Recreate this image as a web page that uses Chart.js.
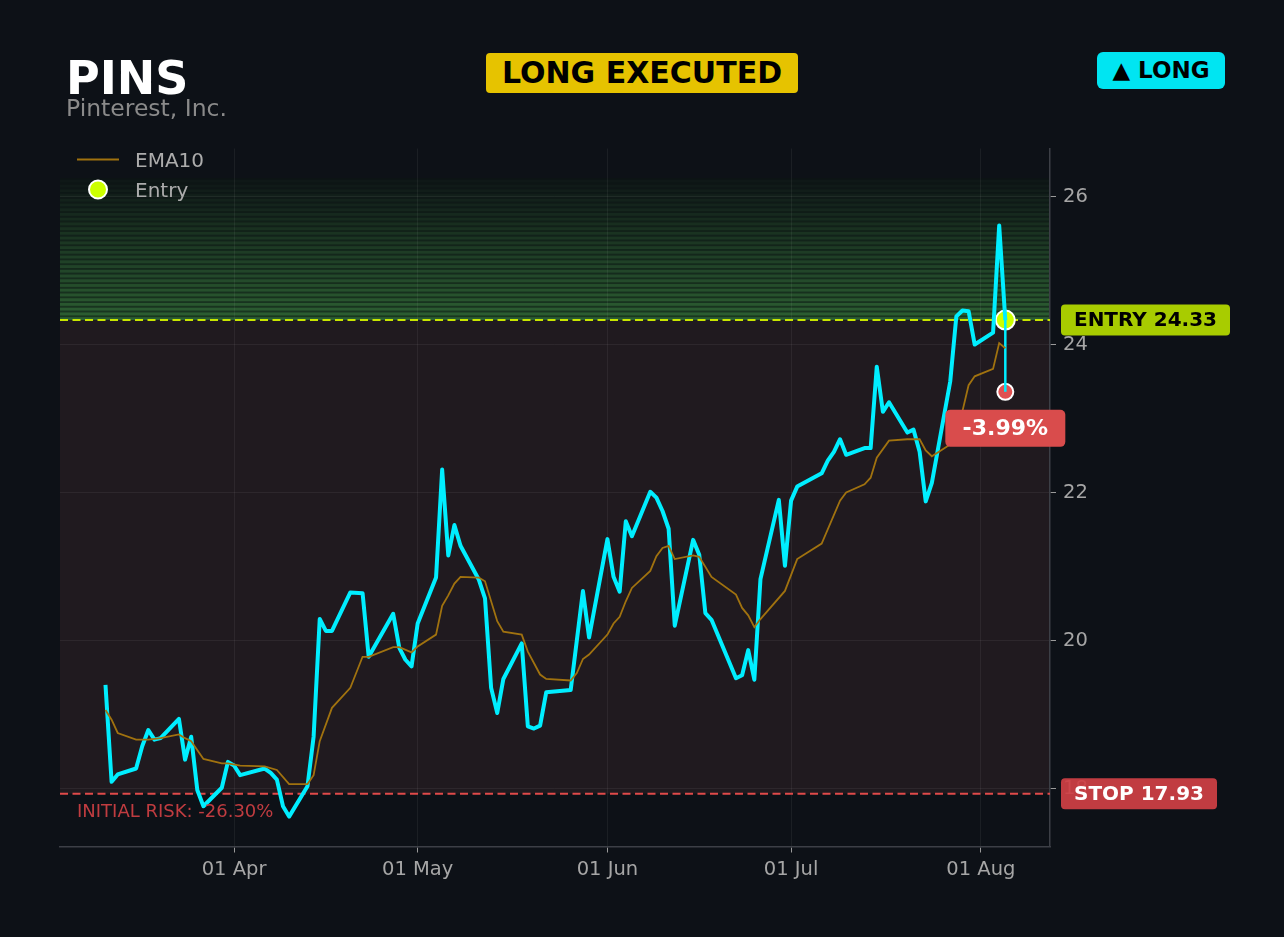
<!DOCTYPE html>
<html>
<head>
<meta charset="utf-8">
<script src="https://cdn.jsdelivr.net/npm/chart.js@4.4.1/dist/chart.umd.min.js"></script>
<style>
  body { margin: 0; background: #0d1117; font-family: "DejaVu Sans", sans-serif; }
  #wrap { position: relative; width: 1284px; height: 937px; overflow: hidden; }
  #plot { position: absolute; left: 0; top: 0; }
  .abs { position: absolute; line-height: 1; white-space: nowrap; }
  .badge { display: flex; align-items: center; justify-content: center; font-weight: bold; color: #000; }
</style>
</head>
<body>
<div id="wrap">
  <canvas id="plot" width="1284" height="937"></canvas>
  <div class="abs" style="left:66px; top:55px; font-size:46px; font-weight:bold; color:#fff;">PINS</div>
  <div class="abs" style="left:66px; top:97px; font-size:23.5px; color:#8a8a8a;">Pinterest, Inc.</div>
  <div class="abs badge" style="left:486px; top:53px; width:312px; height:40px; background:#e6c300; border-radius:4px; font-size:30px;">LONG EXECUTED</div>
  <div class="abs badge" style="left:1097px; top:52px; width:128px; height:37px; background:#00e5f2; border-radius:6px; font-size:23px;">▲ LONG</div>
</div>
<script>
// day numbers counted from 1 Mar (01 Apr = 31)
var priceDays = [10, 11, 12, 15, 16, 17, 18, 19, 22, 23, 24, 25, 26, 29, 30, 31, 32, 36, 37, 38, 39, 40,
  43, 44, 45, 46, 47, 50, 52, 53, 57, 58, 59, 60, 61, 64, 65, 66, 67, 68, 71, 72, 73, 74, 75, 78, 79, 80,
  81, 82, 86, 88, 89, 92, 93, 94, 95, 96, 99, 100, 101, 102, 103, 106, 107, 108, 109, 113, 114, 115, 116,
  117, 120, 121, 122, 123, 127, 128, 129, 130, 131, 134, 135, 136, 137, 138, 141, 142, 143, 144, 145, 148,
  149, 150, 151, 152, 155, 156, 157];
var priceValues = [19.40, 18.09, 18.19, 18.27, 18.57, 18.79, 18.66, 18.68, 18.94, 18.39, 18.70, 17.98, 17.76,
  18.01, 18.36, 18.31, 18.18, 18.27, 18.21, 18.12, 17.76, 17.62, 18.03, 18.70, 20.29, 20.13, 20.13, 20.65,
  20.64, 19.78, 20.36, 19.90, 19.74, 19.65, 20.23, 20.85, 22.31, 21.15, 21.56, 21.28, 20.82, 20.57, 19.36,
  19.02, 19.48, 19.96, 18.84, 18.81, 18.85, 19.30, 19.33, 20.67, 20.04, 21.37, 20.86, 20.66, 21.61, 21.41,
  22.01, 21.93, 21.75, 21.51, 20.20, 21.36, 21.16, 20.37, 20.28, 19.49, 19.53, 19.87, 19.47, 20.83, 21.90,
  21.01, 21.89, 22.08, 22.26, 22.43, 22.55, 22.72, 22.51, 22.60, 22.60, 23.70, 23.09, 23.22, 22.81, 22.85,
  22.55, 21.88, 22.13, 23.50, 24.38, 24.46, 24.45, 24.00, 24.16, 25.61, 24.33];

var emaDays = [10, 11, 12, 15, 17, 19, 22, 23, 24, 26, 29, 30, 32, 36, 38, 40, 43, 44, 45, 47, 50, 52, 53,
  57, 58, 60, 61, 64, 65, 66, 67, 68, 71, 72, 74, 75, 78, 79, 81, 82, 86, 87, 88, 89, 92, 93, 94, 95, 96,
  99, 100, 101, 102, 103, 106, 107, 109, 113, 114, 115, 116, 117, 121, 123, 127, 130, 131, 134, 135, 136,
  138, 141, 143, 144, 145, 148, 150, 151, 152, 155, 156, 157];
var emaValues = [19.06, 18.93, 18.75, 18.66, 18.66, 18.68, 18.73, 18.68, 18.64, 18.40, 18.34, 18.34, 18.31,
  18.30, 18.25, 18.06, 18.06, 18.18, 18.64, 19.09, 19.36, 19.78, 19.78, 19.91, 19.91, 19.84, 19.92, 20.08,
  20.47, 20.61, 20.77, 20.86, 20.85, 20.80, 20.26, 20.12, 20.08, 19.85, 19.54, 19.48, 19.46, 19.56, 19.75,
  19.81, 20.08, 20.23, 20.32, 20.53, 20.71, 20.94, 21.14, 21.25, 21.28, 21.10, 21.15, 21.13, 20.86, 20.62,
  20.44, 20.34, 20.18, 20.29, 20.67, 21.10, 21.31, 21.89, 22.00, 22.11, 22.20, 22.47, 22.70, 22.72, 22.72,
  22.57, 22.49, 22.65, 23.10, 23.45, 23.57, 23.67, 24.02, 23.95];

var entryDay = 157;
var entryPrice = 24.33;
var stopPrice = 17.93;
var currentPrice = 23.36;
var bandTop = 26.25;

var xTickDays = [31, 61, 92, 122, 153];
var xTickLabels = ['01 Apr', '01 May', '01 Jun', '01 Jul', '01 Aug'];
var yTickValues = [18, 20, 22, 24, 26];

function toPoints(xs, ys) {
  return xs.map(function (d, i) { return { x: d, y: ys[i] }; });
}

function mix(a, b, t) {
  return 'rgb(' + a.map(function (v, i) { return Math.round(v + (b[i] - v) * t); }).join(',') + ')';
}

var zonesPlugin = {
  id: 'zones',
  beforeDraw: function (chart) {
    var ctx = chart.ctx, area = chart.chartArea, y = chart.scales.y;
    var yE = y.getPixelForValue(entryPrice);
    var yS = y.getPixelForValue(stopPrice);
    ctx.save();
    ctx.fillStyle = '#201a1f';
    ctx.fillRect(area.left, yE, area.right - area.left, yS - yE);
    // striped green band above entry
    var n = 30, step = (bandTop - entryPrice) / n;
    for (var i = 0; i < n; i++) {
      var t = i / (n - 1);
      var p0 = y.getPixelForValue(entryPrice + i * step);
      var p1 = y.getPixelForValue(entryPrice + (i + 1) * step);
      ctx.fillStyle = mix([44, 94, 50], [15, 24, 23], t);
      ctx.fillRect(area.left, p1, area.right - area.left, p0 - p1);
      ctx.fillStyle = mix([25, 54, 32], [13, 20, 21], t);
      ctx.fillRect(area.left, p1, area.right - area.left, Math.min(1.8, p0 - p1));
    }
    ctx.restore();
  },
  beforeDatasetsDraw: function (chart) {
    var ctx = chart.ctx, area = chart.chartArea, y = chart.scales.y;
    ctx.save();
    ctx.lineWidth = 2;
    ctx.setLineDash([8, 4.5]);
    ctx.strokeStyle = '#c8e600';
    var yE = y.getPixelForValue(entryPrice);
    ctx.beginPath(); ctx.moveTo(area.left, yE); ctx.lineTo(area.right, yE); ctx.stroke();
    ctx.strokeStyle = '#e04a4a';
    var yS = y.getPixelForValue(stopPrice);
    ctx.beginPath(); ctx.moveTo(area.left, yS); ctx.lineTo(area.right, yS); ctx.stroke();
    ctx.restore();
  },
  afterDraw: function (chart) {
    var ctx = chart.ctx, area = chart.chartArea, x = chart.scales.x, y = chart.scales.y;
    var yE = y.getPixelForValue(entryPrice);
    var yS = y.getPixelForValue(stopPrice);
    var yC = y.getPixelForValue(currentPrice);
    var xC = x.getPixelForValue(entryDay);
    ctx.save();
    ctx.textAlign = 'center';
    ctx.textBaseline = 'middle';

    ctx.fillStyle = '#a8cc00';
    ctx.beginPath(); ctx.roundRect(1061, yE - 15.5, 169, 31, 4); ctx.fill();
    ctx.fillStyle = '#000';
    ctx.font = 'bold 20px "DejaVu Sans"';
    ctx.fillText('ENTRY 24.33', 1145.5, yE + 1);

    ctx.fillStyle = 'rgba(208,64,69,0.93)';
    ctx.beginPath(); ctx.roundRect(1061, yS - 15.5, 156, 31, 4); ctx.fill();
    ctx.fillStyle = '#fff';
    ctx.fillText('STOP 17.93', 1139, yS + 1);

    ctx.fillStyle = '#d94c4c';
    ctx.beginPath(); ctx.roundRect(xC - 60, yC + 18, 120, 37, 5); ctx.fill();
    ctx.fillStyle = '#fff';
    ctx.font = 'bold 22px "DejaVu Sans"';
    ctx.fillText('-3.99%', xC, yC + 37);

    ctx.textAlign = 'left';
    ctx.textBaseline = 'alphabetic';
    ctx.fillStyle = '#c03c40';
    ctx.font = '18px "DejaVu Sans"';
    ctx.fillText('INITIAL RISK: -26.30%', 77, yS + 23);

    // legend
    ctx.strokeStyle = '#a0720f';
    ctx.lineWidth = 2;
    ctx.beginPath(); ctx.moveTo(area.left + 17, area.top + 11); ctx.lineTo(area.left + 59, area.top + 11); ctx.stroke();
    ctx.fillStyle = '#ccff00';
    ctx.strokeStyle = '#fff';
    ctx.beginPath(); ctx.arc(area.left + 38, area.top + 41, 9, 0, Math.PI * 2); ctx.fill(); ctx.stroke();
    ctx.fillStyle = '#acacac';
    ctx.font = '20px "DejaVu Sans"';
    ctx.fillText('EMA10', area.left + 75, area.top + 18);
    ctx.fillText('Entry', area.left + 75, area.top + 48);
    ctx.restore();
  }
};

new Chart(document.getElementById('plot').getContext('2d'), {
  type: 'line',
  data: {
    datasets: [
      {
        label: 'EMA10',
        data: toPoints(emaDays, emaValues),
        borderColor: '#a0720f',
        borderWidth: 1.8,
        pointRadius: 0,
        tension: 0
      },
      {
        label: 'Price',
        data: toPoints(priceDays, priceValues),
        borderColor: '#00eeff',
        borderWidth: 4,
        borderJoinStyle: 'round',
        pointRadius: 0,
        tension: 0
      },
      {
        label: 'Move',
        data: toPoints([entryDay, entryDay], [entryPrice, currentPrice]),
        borderColor: '#00eeff',
        borderWidth: 2.5,
        pointRadius: 0
      },
      {
        label: 'Current',
        type: 'scatter',
        data: toPoints([entryDay], [currentPrice]),
        backgroundColor: '#e05252',
        borderColor: '#fff',
        borderWidth: 2,
        pointRadius: 8
      },
      {
        label: 'Entry',
        type: 'scatter',
        data: toPoints([entryDay], [entryPrice]),
        backgroundColor: '#ccff00',
        borderColor: '#fff',
        borderWidth: 2,
        pointRadius: 9.5
      }
    ]
  },
  options: {
    responsive: false,
    animation: false,
    devicePixelRatio: 1,
    layout: { padding: { left: 60, top: 148.5, right: 0, bottom: 0 } },
    plugins: { legend: { display: false }, tooltip: { enabled: false } },
    scales: {
      x: {
        type: 'linear',
        min: 2.57,
        max: 164.3,
        afterBuildTicks: function (scale) {
          scale.ticks = xTickDays.map(function (d) { return { value: d }; });
        },
        afterFit: function (scale) { scale.height = 90.5; },
        ticks: {
          color: '#a6a6a6',
          font: { family: 'DejaVu Sans', size: 19.5 },
          padding: 6,
          maxRotation: 0,
          callback: function (value) {
            var i = xTickDays.indexOf(value);
            return i >= 0 ? xTickLabels[i] : '';
          }
        },
        grid: { color: 'rgba(255,255,255,0.06)', tickColor: '#9a9a9a', tickLength: 6 },
        border: { color: '#3c3f46', width: 1.5 }
      },
      y: {
        position: 'right',
        min: 17.216,
        max: 26.649,
        afterBuildTicks: function (scale) {
          scale.ticks = yTickValues.map(function (v) { return { value: v }; });
        },
        afterFit: function (scale) { scale.width = 234; },
        ticks: {
          color: '#a6a6a6',
          font: { family: 'DejaVu Sans', size: 19.5 },
          padding: 7
        },
        grid: { color: 'rgba(255,255,255,0.06)', tickColor: '#9a9a9a', tickLength: 6 },
        border: { color: '#3c3f46', width: 1.5 }
      }
    }
  },
  plugins: [zonesPlugin]
});
</script>
</body>
</html>
